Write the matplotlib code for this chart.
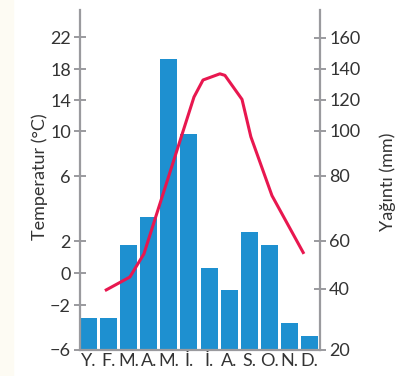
import numpy as np
import matplotlib
matplotlib.use('Agg')
import matplotlib.pyplot as plt
from matplotlib.patches import Rectangle

plt.rcParams['font.family'] = ['Lato', 'DejaVu Sans']

# monthly data
months = ['Y.', 'F.', 'M.', 'A.', 'M.', 'İ.', 'İ.', 'A.', 'S.', 'O.', 'N.', 'D.']
precip = [30.5, 30.5, 58.3, 67.4, 146.5, 98.7, 48.8, 39.7, 62.8, 58.3, 28.9, 24.6]

# temperature curve (position in months, value in °C)
temp_pos = [0.82, 2.06, 2.76, 5.25, 5.70, 6.54, 6.79, 7.64, 8.08, 9.13, 10.72]
temp = [-1.1, -0.25, 1.2, 14.4, 16.6, 17.4, 17.2, 14.1, 9.5, 4.8, 1.2]

temp_ticks = [-6, -2, 0, 2, 6, 10, 14, 18, 22]
temp_labels = ['−6', '−2', '0', '2', '6', '10', '14', '18', '22']
precip_ticks = [20, 40, 60, 80, 100, 120, 140, 160]

# the drawing uses uneven spacing between ticks, so map values piecewise
temp_knots = [-10, -6, -2, 0, 2, 6, 10, 14, 18, 22, 30]
temp_h = [-45, 0, 45, 77, 109, 174, 219, 250, 281, 313, 377]
precip_knots = [0, 20, 40, 60, 80, 100, 120, 140, 160, 200]
precip_h = [-61, 0, 61, 109, 174, 219, 250, 281, 312, 374]


def piecewise(knots, hs):
    fwd = lambda v: np.interp(v, knots, hs)
    inv = lambda h: np.interp(h, hs, knots)
    return fwd, inv


grey = '#9a9a9e'
text_col = '#333333'
bar_col = '#1e90d0'
line_col = '#e8174f'
fs = 13

fig = plt.figure(figsize=(4.06, 3.76), dpi=100)
# pale strip along the left edge of the page
fig.patches.append(Rectangle((0, 0), 13 / 406, 1, transform=fig.transFigure,
                             color='#fdfbf3', zorder=0))
ax = fig.add_axes([80 / 406, 26 / 376, 240 / 406, 340 / 376])
ax2 = ax.twinx()

# precipitation bars on the right axis
ax2.set_yscale('function', functions=piecewise(precip_knots, precip_h))
x = np.arange(len(months))
ax2.bar(x, np.array(precip) - 20, bottom=20, width=0.85, color=bar_col)
ax2.set_ylim(20, 178)
ax2.set_yticks(precip_ticks)

# temperature line on the left axis, drawn above the bars
ax.set_yscale('function', functions=piecewise(temp_knots, temp_h))
ax.plot(temp_pos, temp, color=line_col, lw=2.2, solid_joinstyle='round', solid_capstyle='butt')
ax.set_ylim(-6, 25.4)
ax.set_yticks(temp_ticks)
ax.set_yticklabels(temp_labels)
ax.set_zorder(ax2.get_zorder() + 1)
ax.patch.set_visible(False)

ax.set_xlim(-0.42, 11.52)
ax.set_xticks(x)
ax.set_xticklabels(months)

for s in ['top', 'right']:
    ax.spines[s].set_visible(False)
for s in ['top', 'left', 'bottom']:
    ax2.spines[s].set_visible(False)
for a, s in [(ax, 'left'), (ax, 'bottom'), (ax2, 'right')]:
    a.spines[s].set_color(grey)
    a.spines[s].set_linewidth(1.6)

ax.tick_params(axis='y', direction='inout', length=9, width=1.4, color=grey,
               labelsize=fs, labelcolor=text_col, pad=2)
ax2.tick_params(axis='y', direction='inout', length=9, width=1.4, color=grey,
                labelsize=fs, labelcolor=text_col, pad=2)
ax.tick_params(axis='x', length=0, labelsize=fs, labelcolor=text_col, pad=2)

fig.text(40 / 406, 1 - 177 / 376, 'Temperatur (°C)', rotation=90, ha='center', va='center',
         fontsize=fs, color=text_col)
fig.text(388 / 406, 1 - 182 / 376, 'Yağıntı (mm)', rotation=90, ha='center', va='center',
         fontsize=fs, color=text_col)

fig.savefig('out.png', dpi=100)
